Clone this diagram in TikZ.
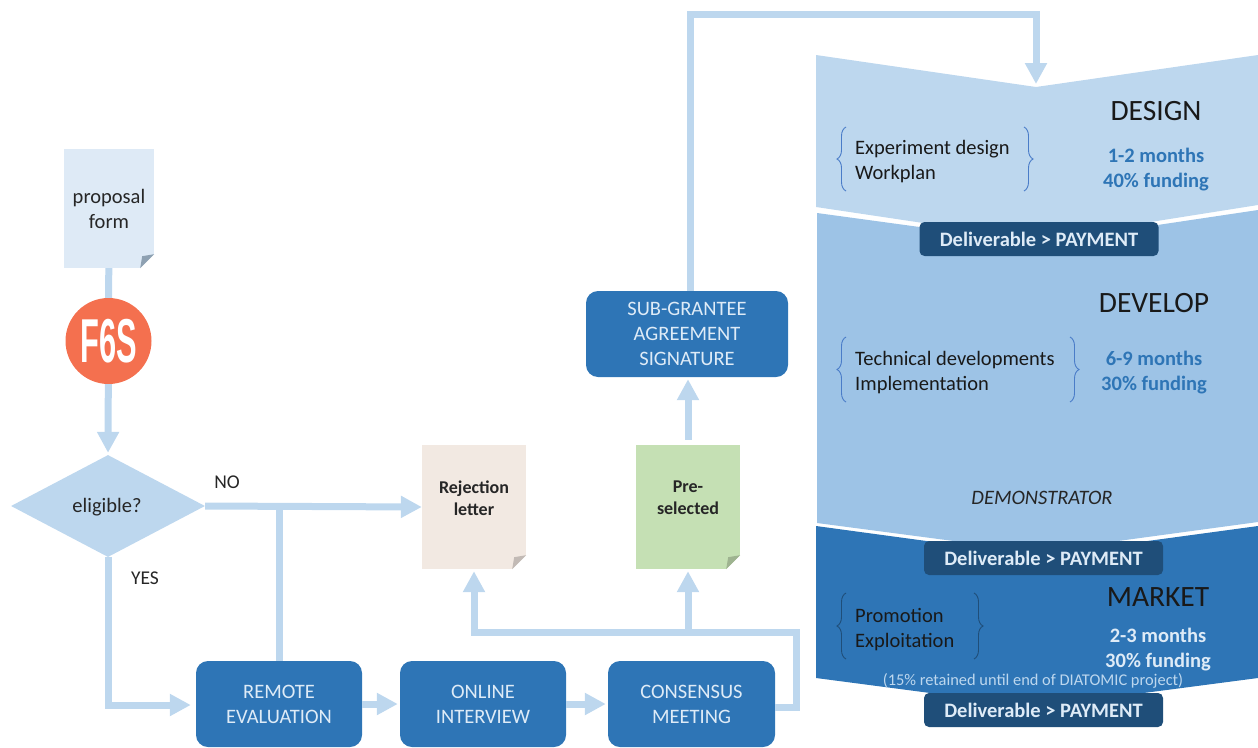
\documentclass[tikz,border=0pt]{standalone}
\usepackage{fontspec}
\setmainfont{Carlito}
\newfontfamily\logofont{Liberation Sans}
\usetikzlibrary{arrows.meta}
\usetikzlibrary{calc}
\usetikzlibrary{decorations.pathreplacing}
\usetikzlibrary{shapes.geometric}

\definecolor{flowblue}{HTML}{BDD7EE}
\definecolor{developblue}{HTML}{9DC3E6}
\definecolor{boxblue}{HTML}{2E75B6}
\definecolor{paydark}{HTML}{1F4E79}
\definecolor{boxtext}{HTML}{DEEBF7}
\definecolor{bracelight}{HTML}{4A7CC8}
\definecolor{formfill}{HTML}{DEEAF6}
\definecolor{rejectfill}{HTML}{F2E9E2}
\definecolor{selectfill}{HTML}{C5E0B4}
\definecolor{logofill}{HTML}{F4704F}

\newcommand{\fsize}[2]{\fontsize{#1}{#2}\selectfont}

\newcommand{\docfold}[2]{
  \fill [white] ($(#1.south east)+(-14,0)$) -- (#1.south east) -- ($(#1.south east)+(0,-14)$) -- cycle;
  \fill [#2] ($(#1.south east)+(-14,0)$) -- ($(#1.south east)+(0,-14)$) -- ($(#1.south east)+(-12,-12)$) -- cycle;
}

\tikzset{
  flow/.style={draw=flowblue,line width=7pt,-{Triangle[width=21pt,length=21pt]},shorten >=2pt},
  flowplain/.style={draw=flowblue,line width=7pt},
  stepbox/.style={fill=boxblue,text=boxtext,rounded corners=12pt,align=center,inner sep=0pt,font=\fsize{20.5}{25}},
  docnode/.style={inner sep=0pt,align=center,text=black!85},
  paybox/.style={fill=paydark,text=boxtext,rounded corners=5pt,inner sep=0pt,minimum width=239pt,minimum height=34pt,font=\fsize{20.5}{22}\bfseries},
  plainlabel/.style={inner sep=0pt,text=black!85,font=\fsize{19.5}{22}},
  tasklabel/.style={inner sep=0pt,align=left,anchor=west,text=black!90,font=\fsize{20.5}{25}},
  phasetitle/.style={inner sep=0pt,text=black!90,font=\fsize{29.5}{30}},
  phaseterm/.style={inner sep=0pt,align=center,font=\fsize{20.5}{25}\bfseries},
  bracket/.style={decorate,decoration={brace,amplitude=9pt},line width=0.9pt}
}

\begin{document}
\begin{tikzpicture}[x=1pt,y=-1pt]

  \useasboundingbox (0,0) rectangle (1258,747);

  \fill [flowblue] (816,55) -- (1036,87) -- (1258,55) -- (1258,205) -- (1037,240) -- (816,207) -- cycle;
  \fill [developblue] (817,213) -- (1037,243) -- (1258,210) -- (1258,522) -- (1037,552) -- (817,523) -- cycle;
  \fill [boxblue] (816,526) -- (1037,556) -- (1258,526) -- (1258,678) -- (1037,707) -- (816,678) -- cycle;

  \node [docnode,fill=formfill,minimum width=90pt,minimum height=119pt,font=\fsize{20.5}{25}] (form) at (109,208.5) {\raisebox{8pt}{\parbox{85pt}{\centering proposal\\form}}};
  \docfold{form}{black!25!flowblue}

  \node [circle,fill=logofill,inner sep=0pt,minimum size=86pt] (logo) at (108.5,341) {};
  \node [inner sep=0pt,text=white] (logotext) at (logo.center) {\scalebox{0.77}[1.55]{\logofont\bfseries\fontsize{40}{40}\selectfont F6S}};

  \node [diamond,fill=flowblue,inner sep=0pt,aspect=1.9,minimum width=194pt,minimum height=102pt,text=black!85,font=\fsize{20.5}{22}] (eligible) at (108,506) {};
  \node [inner sep=0pt,text=black!85,font=\fsize{20.5}{22}] (eligibletext) at (107,507) {eligible?};

  \node [stepbox,minimum width=166pt,minimum height=86pt] (remote) at (279,704) {REMOTE\\EVALUATION};
  \node [stepbox,minimum width=166pt,minimum height=86pt] (interview) at (483,704) {ONLINE\\INTERVIEW};
  \node [stepbox,minimum width=167pt,minimum height=86pt] (consensus) at (691.5,704) {CONSENSUS\\MEETING};
  \node [stepbox,minimum width=202pt,minimum height=86pt] (agreement) at (687,334) {\raisebox{-2pt}{\parbox{190pt}{\centering SUB-GRANTEE\\AGREEMENT\\SIGNATURE}}};

  \node [docnode,fill=rejectfill,minimum width=104pt,minimum height=124pt,font=\fsize{18}{22}\bfseries] (rejection) at (474,507) {\raisebox{31pt}{\parbox{95pt}{\centering Rejection\\letter}}};
  \docfold{rejection}{black!20!rejectfill}

  \node [docnode,fill=selectfill,minimum width=104pt,minimum height=124pt,font=\fsize{18}{22}\bfseries] (preselected) at (688,507) {\raisebox{31pt}{\parbox{95pt}{\centering Pre-\\selected}}};
  \docfold{preselected}{black!20!selectfill}

  \node [plainlabel] (nolabel) at (227,482) {NO};
  \node [plainlabel] (yeslabel) at (145,578) {YES};

  \coordinate (topleft) at (690,14);
  \coordinate (designtip) at (1036,84);
  \coordinate (consensusbend) at (796,632);
  \coordinate (rejectbend) at (474,632);

  \path [flowplain] (form) edge (logo);

  \draw [flow] (logo) -- (eligible.north);
  \draw [flow,shorten >=0pt] (eligible.east) -- (rejection.west);
  \draw [flow] (remote.east) -- (interview.west);
  \draw [flow] (interview.east) -- (consensus.west);

  \path [flowplain] (remote.north) edge (remote.north |- eligible.east);

  \draw [flow,shorten >=5pt] (eligible.south) |- ([yshift=-1pt]remote.west);

  \draw [flow] ([yshift=-3pt]consensus.east) -| (consensusbend) -- (rejectbend) -- (rejection.south -| rejectbend);

  \draw [flow] (preselected.south |- consensusbend) -- (preselected.south);

  \draw [flow,shorten <=5pt] (preselected.north) -- (agreement.south -| preselected.north);

  \draw [flow,shorten >=0pt] (agreement.north -| topleft) -- (topleft) -| (designtip);

  \node [paybox] (payfirst) at (1039,239) {Deliverable > PAYMENT};
  \node [paybox] (paysecond) at (1043.5,558) {Deliverable > PAYMENT};
  \node [paybox] (paythird) at (1043.5,710) {Deliverable > PAYMENT};

  \node [phasetitle] (design) at (1156,111) {DESIGN};
  \node [phaseterm,text=boxblue] (designterm) at (1156,170) {1-2 months\\40\% funding};
  \node [tasklabel] (designtasks) at (855,162) {Experiment design\\Workplan};
  \draw [bracket,bracelight] (846,191) -- (846,127);
  \draw [bracket,bracelight] (1024,127) -- (1024,191);

  \node [phasetitle] (develop) at (1154,303) {DEVELOP};
  \node [phaseterm,text=boxblue] (developterm) at (1154,373) {6-9 months\\30\% funding};
  \node [tasklabel] (developtasks) at (855,373) {Technical developments\\Implementation};
  \draw [bracket,bracelight] (846,402) -- (846,337);
  \draw [bracket,bracelight] (1070,337) -- (1070,402);
  \node [inner sep=0pt,text=black!85,font=\fsize{20.5}{22}\itshape] (demonstrator) at (1042,498) {DEMONSTRATOR};

  \node [phasetitle] (market) at (1158,597) {MARKET};
  \node [phaseterm,text=boxtext] (marketterm) at (1158,650) {2-3 months\\30\% funding};
  \node [tasklabel] (markettasks) at (855,630) {Promotion\\Exploitation};
  \draw [bracket,paydark] (846,659) -- (846,593);
  \draw [bracket,paydark] (974,593) -- (974,659);
  \node [inner sep=0pt,text=flowblue,font=\fsize{16.4}{18}] (retained) at (1033,681) {(15\% retained until end of DIATOMIC project)};

\end{tikzpicture}
\end{document}
